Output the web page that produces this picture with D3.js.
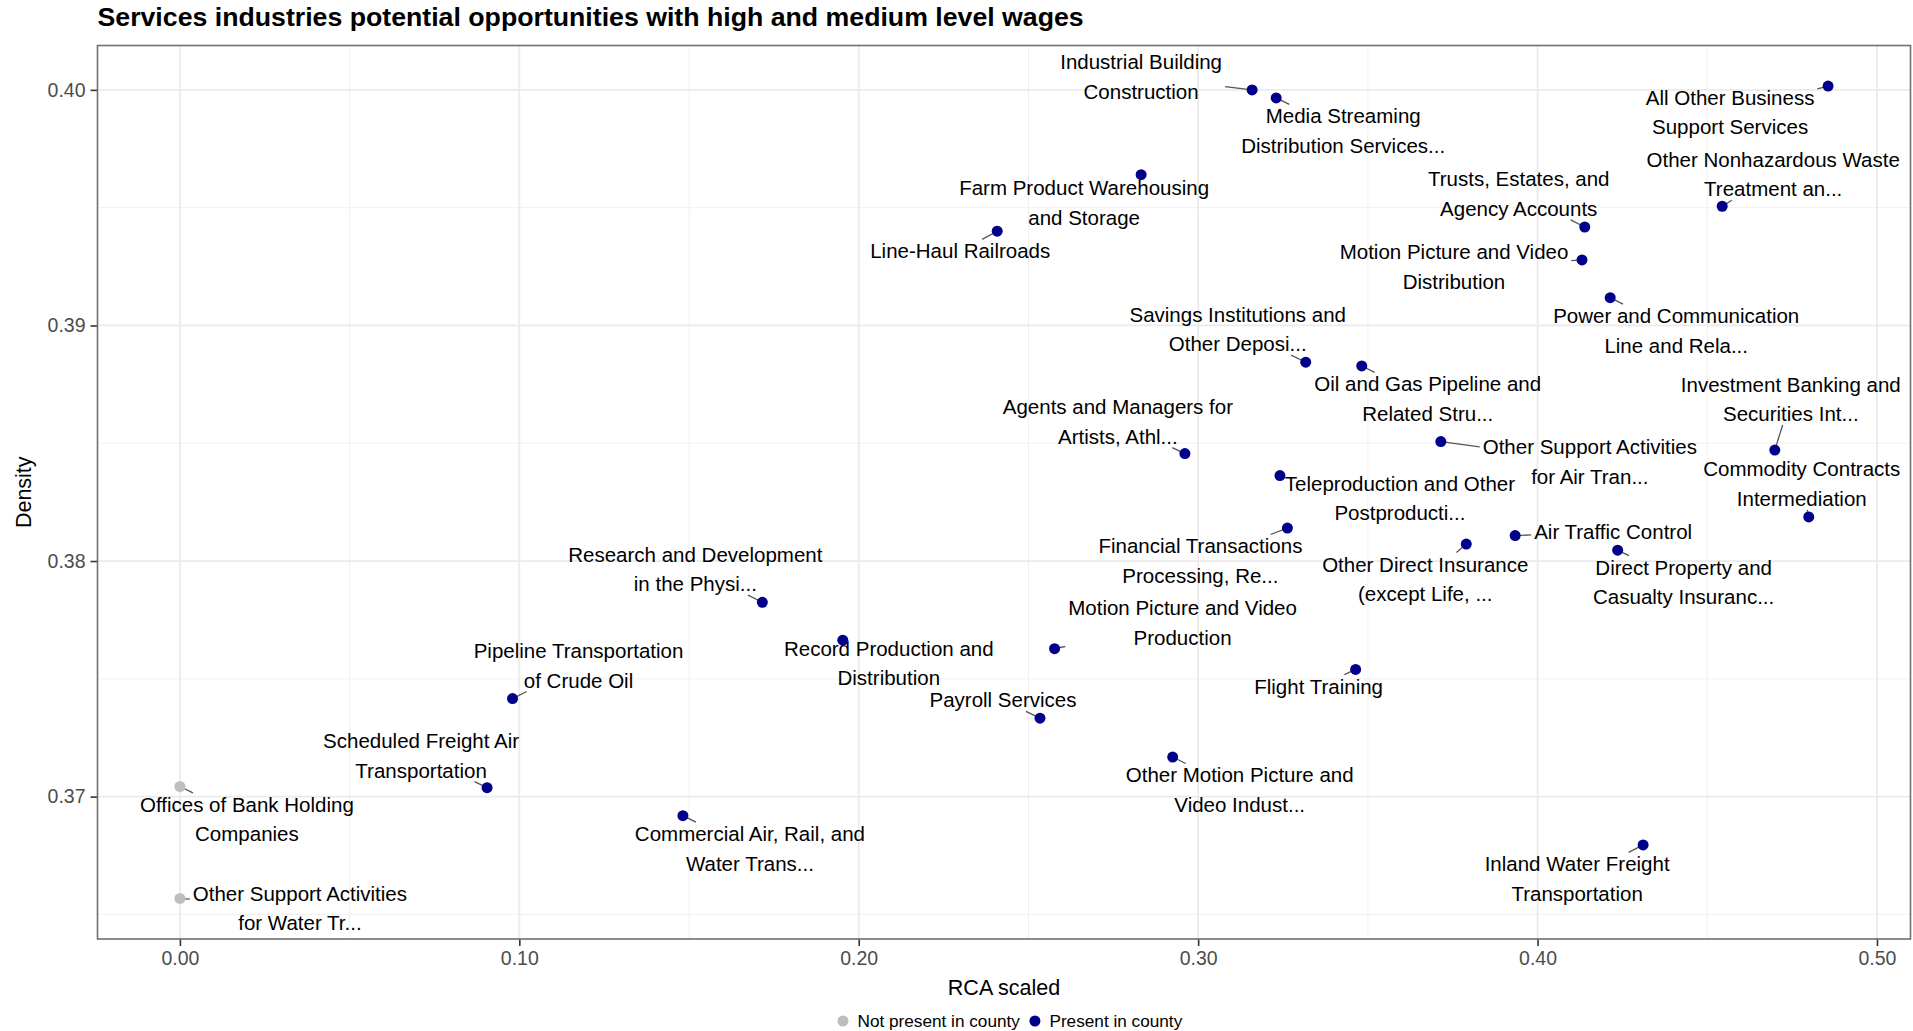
<!DOCTYPE html>
<html>
<head>
<meta charset="utf-8">
<script src="https://cdn.jsdelivr.net/npm/d3@7"></script>
<style>
  body { margin: 0; background: #fff; }
  svg { display: block; }
  text { font-family: "Liberation Sans", Arial, Helvetica, sans-serif; }
</style>
</head>
<body>
<script>
// industries (label lines split with \n, as in the chart)
const industries = [
  "Industrial Building\nConstruction",
  "Media Streaming\nDistribution Services...",
  "All Other Business\nSupport Services",
  "Farm Product Warehousing\nand Storage",
  "Line-Haul Railroads",
  "Trusts, Estates, and\nAgency Accounts",
  "Other Nonhazardous Waste\nTreatment an...",
  "Motion Picture and Video\nDistribution",
  "Power and Communication\nLine and Rela...",
  "Savings Institutions and\nOther Deposi...",
  "Oil and Gas Pipeline and\nRelated Stru...",
  "Agents and Managers for\nArtists, Athl...",
  "Other Support Activities\nfor Air Tran...",
  "Investment Banking and\nSecurities Int...",
  "Teleproduction and Other\nPostproducti...",
  "Commodity Contracts\nIntermediation",
  "Financial Transactions\nProcessing, Re...",
  "Air Traffic Control",
  "Other Direct Insurance\n(except Life, ...",
  "Direct Property and\nCasualty Insuranc...",
  "Research and Development\nin the Physi...",
  "Record Production and\nDistribution",
  "Motion Picture and Video\nProduction",
  "Flight Training",
  "Pipeline Transportation\nof Crude Oil",
  "Payroll Services",
  "Other Motion Picture and\nVideo Indust...",
  "Scheduled Freight Air\nTransportation",
  "Offices of Bank Holding\nCompanies",
  "Commercial Air, Rail, and\nWater Trans...",
  "Inland Water Freight\nTransportation",
  "Other Support Activities\nfor Water Tr..."
];

const rcaScaled = [
  0.3159, 0.3230, 0.4856, 0.2832, 0.2408, 0.4139, 0.4544, 0.4131,
  0.4214, 0.3317, 0.3482, 0.2961, 0.3715, 0.4699, 0.3241, 0.4799,
  0.3263, 0.3934, 0.3790, 0.4236, 0.1716, 0.1953, 0.2577, 0.3464,
  0.0980, 0.2534, 0.2925, 0.0905, 0.0000, 0.1482, 0.4311, 0.0000
];

const density = [
  0.40000, 0.39966, 0.40016, 0.39640, 0.39400, 0.39418, 0.39506, 0.39278,
  0.39118, 0.38844, 0.38828, 0.38456, 0.38507, 0.38471, 0.38363, 0.38187,
  0.38140, 0.38108, 0.38072, 0.38046, 0.37825, 0.37664, 0.37628, 0.37540,
  0.37416, 0.37333, 0.37168, 0.37038, 0.37043, 0.36919, 0.36795, 0.36568
];

const presentInCounty = [
  1, 1, 1, 1, 1, 1, 1, 1, 1, 1, 1, 1, 1, 1, 1, 1,
  1, 1, 1, 1, 1, 1, 1, 1, 1, 1, 1, 1, 0, 1, 1, 0
];

// where the repelled labels ended up: px from the point to the label centre
const labelOffsets = [
  [-111, -13], [67, 33], [-98, 26], [-57, 28], [-37, 20], [-66, -33], [51, -32], [-128, 7],
  [66, 33], [-68, -33], [66, 33], [-67, -32], [149, 20], [16, -51], [120, 23], [-7, -33],
  [-87, 33], [98, -4], [-41, 35], [66, 32], [-67, -33], [46, 23], [128, -26], [-37, 17],
  [66, -33], [-37, -18], [67, 33], [-66, -32], [67, 33], [67, 33], [-66, 34], [120, 10]
];

const xTicks = [0, 0.1, 0.2, 0.3, 0.4, 0.5];
const yTicks = [0.37, 0.38, 0.39, 0.40];
const xMinor = [0.05, 0.15, 0.25, 0.35, 0.45];
const yMinor = [0.365, 0.375, 0.385, 0.395];
const legendKeys = ["Not present in county", "Present in county"];

const w = 1913, h = 1031;
const pLeft = 97.5, pRight = 1910.5, pTop = 45.5, pBottom = 939;
const colPresent = "#00008b";
const colAbsent = "#bebebe";

const data = industries.map((name, i) => ({
  name: name,
  x: rcaScaled[i],
  y: density[i],
  present: presentInCounty[i] === 1,
  off: labelOffsets[i]
}));

// ggplot style 5% expansion
let expand = function (ext) {
  const pad = (ext[1] - ext[0]) * 0.05;
  return [ext[0] - pad, ext[1] + pad];
};

const xScale = d3.scaleLinear()
  .domain(expand(d3.extent(data, d => d.x)))
  .range([pLeft, pRight]);

const yScale = d3.scaleLinear()
  .domain(expand(d3.extent(data, d => d.y)))
  .range([pBottom, pTop]);

const svg = d3.select("body").append("svg").attr("width", w).attr("height", h);

// title
svg.append("text")
  .attr("x", pLeft)
  .attr("y", 26)
  .attr("font-size", "26.7px")
  .attr("font-weight", "bold")
  .attr("fill", "#000")
  .text("Services industries potential opportunities with high and medium level wages");

// grid
const grid = svg.append("g");
grid.selectAll("line.xminor").data(xMinor).enter().append("line")
  .attr("x1", d => xScale(d)).attr("x2", d => xScale(d))
  .attr("y1", pTop).attr("y2", pBottom)
  .attr("stroke", "#f0f0f0").attr("stroke-width", 1);
grid.selectAll("line.yminor").data(yMinor).enter().append("line")
  .attr("y1", d => yScale(d)).attr("y2", d => yScale(d))
  .attr("x1", pLeft).attr("x2", pRight)
  .attr("stroke", "#f0f0f0").attr("stroke-width", 1);
grid.selectAll("line.xmajor").data(xTicks).enter().append("line")
  .attr("x1", d => xScale(d)).attr("x2", d => xScale(d))
  .attr("y1", pTop).attr("y2", pBottom)
  .attr("stroke", "#ebebeb").attr("stroke-width", 1.8);
grid.selectAll("line.ymajor").data(yTicks).enter().append("line")
  .attr("y1", d => yScale(d)).attr("y2", d => yScale(d))
  .attr("x1", pLeft).attr("x2", pRight)
  .attr("stroke", "#ebebeb").attr("stroke-width", 1.8);

// axes
const xAxis = d3.axisBottom(xScale).tickValues(xTicks).tickFormat(d3.format(".2f")).tickSizeOuter(0).tickSize(7).tickPadding(5);
const yAxis = d3.axisLeft(yScale).tickValues(yTicks).tickFormat(d3.format(".2f")).tickSizeOuter(0).tickSize(7).tickPadding(5);

let styleAxis = function (g) {
  g.select(".domain").remove();
  g.selectAll(".tick line").attr("stroke", "#333").attr("stroke-width", 1.6);
  g.selectAll(".tick text")
    .attr("fill", "#4d4d4d")
    .attr("font-size", "19.5px")
    .attr("font-family", "'Liberation Sans', Arial, sans-serif");
};

svg.append("g")
  .attr("transform", "translate(0," + pBottom + ")")
  .call(xAxis)
  .call(styleAxis);

svg.append("g")
  .attr("transform", "translate(" + pLeft + ",0)")
  .call(yAxis)
  .call(styleAxis);

// panel border
svg.append("rect")
  .attr("x", pLeft).attr("y", pTop)
  .attr("width", pRight - pLeft).attr("height", pBottom - pTop)
  .attr("fill", "none")
  .attr("stroke", "#707070")
  .attr("stroke-width", 1.6);

// axis titles
svg.append("text")
  .attr("x", (pLeft + pRight) / 2)
  .attr("y", 995)
  .attr("text-anchor", "middle")
  .attr("font-size", "21.5px")
  .text("RCA scaled");

svg.append("text")
  .attr("transform", "translate(31," + ((pTop + pBottom) / 2) + ") rotate(-90)")
  .attr("text-anchor", "middle")
  .attr("font-size", "21.5px")
  .text("Density");

// labels (drawn first so we can measure them for the segments)
const lineH = 29.5;
const labelSize = 20.5;
const segLayer = svg.append("g");
const labelLayer = svg.append("g");

labelLayer.selectAll("text")
  .data(data)
  .enter()
  .append("text")
  .attr("text-anchor", "middle")
  .attr("font-size", labelSize + "px")
  .attr("fill", "#000")
  .each(function (d) {
    const lines = d.name.split("\n");
    const cx = xScale(d.x) + d.off[0];
    const cy = yScale(d.y) + d.off[1];
    const y0 = cy - (lines.length - 1) * lineH / 2 + labelSize * 0.35;
    const t = d3.select(this);
    lines.forEach((ln, j) => {
      t.append("tspan").attr("x", cx).attr("y", y0 + j * lineH).text(ln);
    });
    const bb = this.getBBox();
    d.cx = cx;
    d.cy = cy;
    d.box = { x0: bb.x - 3, x1: bb.x + bb.width + 3, y0: bb.y, y1: bb.y + bb.height };
  });

// segments: from the point towards the label centre, stopping at the label box
data.forEach(d => {
  const px = xScale(d.x), py = yScale(d.y);
  const dx = d.cx - px, dy = d.cy - py;
  let tIn = 0;
  [[dx, px, d.box.x0, d.box.x1], [dy, py, d.box.y0, d.box.y1]].forEach(a => {
    if (a[0] === 0) return;
    const t1 = (a[2] - a[1]) / a[0], t2 = (a[3] - a[1]) / a[0];
    tIn = Math.max(tIn, Math.min(t1, t2));
  });
  const qx = px + dx * tIn, qy = py + dy * tIn;
  if (Math.hypot(qx - px, qy - py) > 7) {
    segLayer.append("line")
      .attr("x1", px).attr("y1", py)
      .attr("x2", qx).attr("y2", qy)
      .attr("stroke", "#555")
      .attr("stroke-width", 1.3);
  }
});

// points
svg.append("g").selectAll("circle")
  .data(data)
  .enter()
  .append("circle")
  .attr("cx", d => xScale(d.x))
  .attr("cy", d => yScale(d.y))
  .attr("r", 5.5)
  .attr("fill", d => d.present ? colPresent : colAbsent);

// legend
const legend = svg.append("g");
let lx = 0;
legendKeys.forEach((k, i) => {
  legend.append("circle")
    .attr("cx", lx + 5).attr("cy", 0).attr("r", 5.5)
    .attr("fill", i === 0 ? colAbsent : colPresent);
  const t = legend.append("text")
    .attr("x", lx + 19.5).attr("y", 6)
    .attr("font-size", "17.2px")
    .attr("fill", "#000")
    .text(k);
  lx += 19.5 + t.node().getComputedTextLength() + 10;
});
legend.attr("transform", "translate(" + 838 + ",1021)");
</script>
</body>
</html>
